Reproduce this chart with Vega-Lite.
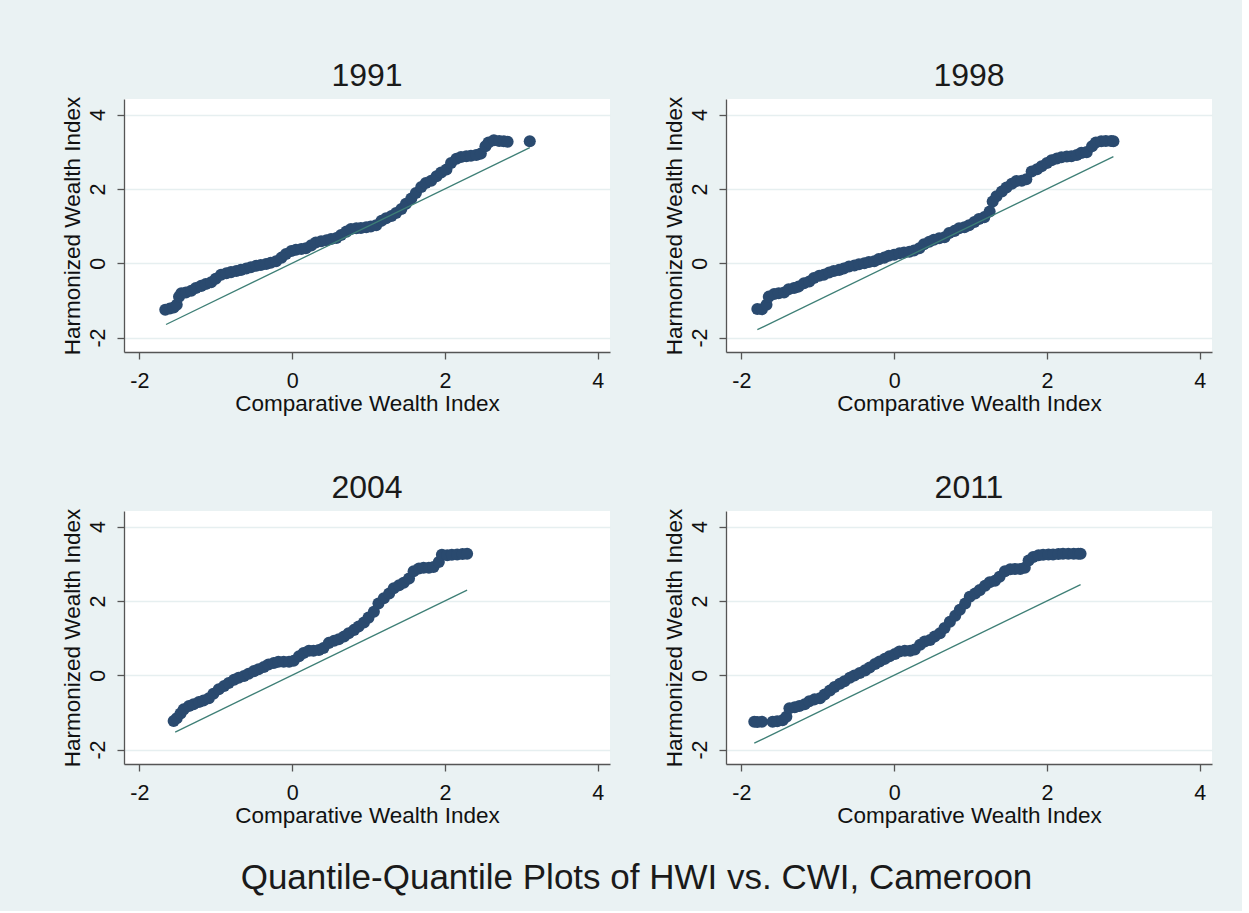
{
  "$schema": "https://vega.github.io/schema/vega-lite/v6.json",
  "background": "#EAF2F3",
  "padding": {"left": 60, "top": 60, "right": 30, "bottom": 15},
  "title": {
    "text": "Quantile-Quantile Plots of HWI vs. CWI, Cameroon",
    "orient": "bottom",
    "anchor": "middle",
    "font": "Liberation Sans",
    "fontSize": 35,
    "fontWeight": "normal",
    "color": "#1a1a1a",
    "baseline": "top",
    "offset": 34
  },
  "data": {
    "values": [
      {"year": "1991", "series": "quantile", "cwi": -1.66, "hwi": -1.25},
      {"year": "1991", "series": "quantile", "cwi": -1.60, "hwi": -1.22},
      {"year": "1991", "series": "quantile", "cwi": -1.55, "hwi": -1.19},
      {"year": "1991", "series": "quantile", "cwi": -1.51, "hwi": -1.12},
      {"year": "1991", "series": "quantile", "cwi": -1.48, "hwi": -0.90},
      {"year": "1991", "series": "quantile", "cwi": -1.45, "hwi": -0.81},
      {"year": "1991", "series": "quantile", "cwi": -1.39, "hwi": -0.79},
      {"year": "1991", "series": "quantile", "cwi": -1.32, "hwi": -0.74},
      {"year": "1991", "series": "quantile", "cwi": -1.26, "hwi": -0.67},
      {"year": "1991", "series": "quantile", "cwi": -1.19, "hwi": -0.61},
      {"year": "1991", "series": "quantile", "cwi": -1.13, "hwi": -0.56},
      {"year": "1991", "series": "quantile", "cwi": -1.06, "hwi": -0.51},
      {"year": "1991", "series": "quantile", "cwi": -1.00, "hwi": -0.42},
      {"year": "1991", "series": "quantile", "cwi": -0.93, "hwi": -0.31},
      {"year": "1991", "series": "quantile", "cwi": -0.86, "hwi": -0.27},
      {"year": "1991", "series": "quantile", "cwi": -0.80, "hwi": -0.24},
      {"year": "1991", "series": "quantile", "cwi": -0.73, "hwi": -0.21},
      {"year": "1991", "series": "quantile", "cwi": -0.67, "hwi": -0.18},
      {"year": "1991", "series": "quantile", "cwi": -0.60, "hwi": -0.14},
      {"year": "1991", "series": "quantile", "cwi": -0.54, "hwi": -0.11},
      {"year": "1991", "series": "quantile", "cwi": -0.47, "hwi": -0.07},
      {"year": "1991", "series": "quantile", "cwi": -0.41, "hwi": -0.05},
      {"year": "1991", "series": "quantile", "cwi": -0.34, "hwi": -0.02},
      {"year": "1991", "series": "quantile", "cwi": -0.28, "hwi": 0.01},
      {"year": "1991", "series": "quantile", "cwi": -0.21, "hwi": 0.05},
      {"year": "1991", "series": "quantile", "cwi": -0.14, "hwi": 0.15},
      {"year": "1991", "series": "quantile", "cwi": -0.08, "hwi": 0.25},
      {"year": "1991", "series": "quantile", "cwi": -0.01, "hwi": 0.33},
      {"year": "1991", "series": "quantile", "cwi": 0.05, "hwi": 0.36},
      {"year": "1991", "series": "quantile", "cwi": 0.12, "hwi": 0.38},
      {"year": "1991", "series": "quantile", "cwi": 0.18, "hwi": 0.40},
      {"year": "1991", "series": "quantile", "cwi": 0.25, "hwi": 0.48},
      {"year": "1991", "series": "quantile", "cwi": 0.31, "hwi": 0.56},
      {"year": "1991", "series": "quantile", "cwi": 0.38, "hwi": 0.59},
      {"year": "1991", "series": "quantile", "cwi": 0.45, "hwi": 0.62},
      {"year": "1991", "series": "quantile", "cwi": 0.51, "hwi": 0.65},
      {"year": "1991", "series": "quantile", "cwi": 0.58, "hwi": 0.68},
      {"year": "1991", "series": "quantile", "cwi": 0.64, "hwi": 0.76},
      {"year": "1991", "series": "quantile", "cwi": 0.71, "hwi": 0.85},
      {"year": "1991", "series": "quantile", "cwi": 0.77, "hwi": 0.92},
      {"year": "1991", "series": "quantile", "cwi": 0.84, "hwi": 0.94},
      {"year": "1991", "series": "quantile", "cwi": 0.90, "hwi": 0.95},
      {"year": "1991", "series": "quantile", "cwi": 0.97, "hwi": 0.97},
      {"year": "1991", "series": "quantile", "cwi": 1.03, "hwi": 0.99},
      {"year": "1991", "series": "quantile", "cwi": 1.10, "hwi": 1.02},
      {"year": "1991", "series": "quantile", "cwi": 1.17, "hwi": 1.14},
      {"year": "1991", "series": "quantile", "cwi": 1.23, "hwi": 1.21},
      {"year": "1991", "series": "quantile", "cwi": 1.30, "hwi": 1.27},
      {"year": "1991", "series": "quantile", "cwi": 1.36, "hwi": 1.35},
      {"year": "1991", "series": "quantile", "cwi": 1.43, "hwi": 1.46},
      {"year": "1991", "series": "quantile", "cwi": 1.49, "hwi": 1.60},
      {"year": "1991", "series": "quantile", "cwi": 1.56, "hwi": 1.74},
      {"year": "1991", "series": "quantile", "cwi": 1.62, "hwi": 1.89},
      {"year": "1991", "series": "quantile", "cwi": 1.69, "hwi": 2.05},
      {"year": "1991", "series": "quantile", "cwi": 1.75, "hwi": 2.16},
      {"year": "1991", "series": "quantile", "cwi": 1.82, "hwi": 2.22},
      {"year": "1991", "series": "quantile", "cwi": 1.89, "hwi": 2.34},
      {"year": "1991", "series": "quantile", "cwi": 1.95, "hwi": 2.44},
      {"year": "1991", "series": "quantile", "cwi": 2.02, "hwi": 2.52},
      {"year": "1991", "series": "quantile", "cwi": 2.08, "hwi": 2.70},
      {"year": "1991", "series": "quantile", "cwi": 2.15, "hwi": 2.81},
      {"year": "1991", "series": "quantile", "cwi": 2.21, "hwi": 2.86},
      {"year": "1991", "series": "quantile", "cwi": 2.28, "hwi": 2.88},
      {"year": "1991", "series": "quantile", "cwi": 2.34, "hwi": 2.89},
      {"year": "1991", "series": "quantile", "cwi": 2.41, "hwi": 2.91},
      {"year": "1991", "series": "quantile", "cwi": 2.47, "hwi": 2.95},
      {"year": "1991", "series": "quantile", "cwi": 2.53, "hwi": 3.15},
      {"year": "1991", "series": "quantile", "cwi": 2.57, "hwi": 3.25},
      {"year": "1991", "series": "quantile", "cwi": 2.64, "hwi": 3.31},
      {"year": "1991", "series": "quantile", "cwi": 2.71, "hwi": 3.29},
      {"year": "1991", "series": "quantile", "cwi": 2.77, "hwi": 3.28},
      {"year": "1991", "series": "quantile", "cwi": 2.82, "hwi": 3.27},
      {"year": "1991", "series": "quantile", "cwi": 3.11, "hwi": 3.28},
      {"year": "1991", "series": "reference", "cwi": -1.65, "hwi": -1.65},
      {"year": "1991", "series": "reference", "cwi": 3.11, "hwi": 3.11},

      {"year": "1998", "series": "quantile", "cwi": -1.79, "hwi": -1.23},
      {"year": "1998", "series": "quantile", "cwi": -1.73, "hwi": -1.24},
      {"year": "1998", "series": "quantile", "cwi": -1.67, "hwi": -1.12},
      {"year": "1998", "series": "quantile", "cwi": -1.64, "hwi": -0.90},
      {"year": "1998", "series": "quantile", "cwi": -1.57, "hwi": -0.83},
      {"year": "1998", "series": "quantile", "cwi": -1.51, "hwi": -0.81},
      {"year": "1998", "series": "quantile", "cwi": -1.44, "hwi": -0.79},
      {"year": "1998", "series": "quantile", "cwi": -1.38, "hwi": -0.70},
      {"year": "1998", "series": "quantile", "cwi": -1.31, "hwi": -0.67},
      {"year": "1998", "series": "quantile", "cwi": -1.25, "hwi": -0.63},
      {"year": "1998", "series": "quantile", "cwi": -1.18, "hwi": -0.54},
      {"year": "1998", "series": "quantile", "cwi": -1.11, "hwi": -0.49},
      {"year": "1998", "series": "quantile", "cwi": -1.05, "hwi": -0.40},
      {"year": "1998", "series": "quantile", "cwi": -0.98, "hwi": -0.34},
      {"year": "1998", "series": "quantile", "cwi": -0.92, "hwi": -0.31},
      {"year": "1998", "series": "quantile", "cwi": -0.85, "hwi": -0.25},
      {"year": "1998", "series": "quantile", "cwi": -0.79, "hwi": -0.21},
      {"year": "1998", "series": "quantile", "cwi": -0.72, "hwi": -0.18},
      {"year": "1998", "series": "quantile", "cwi": -0.66, "hwi": -0.14},
      {"year": "1998", "series": "quantile", "cwi": -0.59, "hwi": -0.09},
      {"year": "1998", "series": "quantile", "cwi": -0.52, "hwi": -0.06},
      {"year": "1998", "series": "quantile", "cwi": -0.46, "hwi": -0.03},
      {"year": "1998", "series": "quantile", "cwi": -0.39, "hwi": 0.00},
      {"year": "1998", "series": "quantile", "cwi": -0.33, "hwi": 0.03},
      {"year": "1998", "series": "quantile", "cwi": -0.26, "hwi": 0.05},
      {"year": "1998", "series": "quantile", "cwi": -0.20, "hwi": 0.11},
      {"year": "1998", "series": "quantile", "cwi": -0.13, "hwi": 0.15},
      {"year": "1998", "series": "quantile", "cwi": -0.07, "hwi": 0.20},
      {"year": "1998", "series": "quantile", "cwi": 0.00, "hwi": 0.23},
      {"year": "1998", "series": "quantile", "cwi": 0.07, "hwi": 0.27},
      {"year": "1998", "series": "quantile", "cwi": 0.13, "hwi": 0.29},
      {"year": "1998", "series": "quantile", "cwi": 0.20, "hwi": 0.31},
      {"year": "1998", "series": "quantile", "cwi": 0.26, "hwi": 0.34},
      {"year": "1998", "series": "quantile", "cwi": 0.33, "hwi": 0.40},
      {"year": "1998", "series": "quantile", "cwi": 0.39, "hwi": 0.51},
      {"year": "1998", "series": "quantile", "cwi": 0.46, "hwi": 0.58},
      {"year": "1998", "series": "quantile", "cwi": 0.52, "hwi": 0.63},
      {"year": "1998", "series": "quantile", "cwi": 0.59, "hwi": 0.67},
      {"year": "1998", "series": "quantile", "cwi": 0.66, "hwi": 0.70},
      {"year": "1998", "series": "quantile", "cwi": 0.72, "hwi": 0.81},
      {"year": "1998", "series": "quantile", "cwi": 0.79, "hwi": 0.87},
      {"year": "1998", "series": "quantile", "cwi": 0.85, "hwi": 0.94},
      {"year": "1998", "series": "quantile", "cwi": 0.92, "hwi": 0.97},
      {"year": "1998", "series": "quantile", "cwi": 0.98, "hwi": 1.02},
      {"year": "1998", "series": "quantile", "cwi": 1.05, "hwi": 1.11},
      {"year": "1998", "series": "quantile", "cwi": 1.11, "hwi": 1.19},
      {"year": "1998", "series": "quantile", "cwi": 1.18, "hwi": 1.24},
      {"year": "1998", "series": "quantile", "cwi": 1.25, "hwi": 1.39},
      {"year": "1998", "series": "quantile", "cwi": 1.29, "hwi": 1.66},
      {"year": "1998", "series": "quantile", "cwi": 1.34, "hwi": 1.80},
      {"year": "1998", "series": "quantile", "cwi": 1.41, "hwi": 1.93},
      {"year": "1998", "series": "quantile", "cwi": 1.47, "hwi": 2.04},
      {"year": "1998", "series": "quantile", "cwi": 1.54, "hwi": 2.14},
      {"year": "1998", "series": "quantile", "cwi": 1.60, "hwi": 2.21},
      {"year": "1998", "series": "quantile", "cwi": 1.67, "hwi": 2.22},
      {"year": "1998", "series": "quantile", "cwi": 1.73, "hwi": 2.26},
      {"year": "1998", "series": "quantile", "cwi": 1.80, "hwi": 2.47},
      {"year": "1998", "series": "quantile", "cwi": 1.87, "hwi": 2.53},
      {"year": "1998", "series": "quantile", "cwi": 1.93, "hwi": 2.61},
      {"year": "1998", "series": "quantile", "cwi": 2.00, "hwi": 2.70},
      {"year": "1998", "series": "quantile", "cwi": 2.06, "hwi": 2.77},
      {"year": "1998", "series": "quantile", "cwi": 2.13, "hwi": 2.82},
      {"year": "1998", "series": "quantile", "cwi": 2.19, "hwi": 2.85},
      {"year": "1998", "series": "quantile", "cwi": 2.26, "hwi": 2.87},
      {"year": "1998", "series": "quantile", "cwi": 2.32, "hwi": 2.88},
      {"year": "1998", "series": "quantile", "cwi": 2.39, "hwi": 2.91},
      {"year": "1998", "series": "quantile", "cwi": 2.45, "hwi": 2.97},
      {"year": "1998", "series": "quantile", "cwi": 2.52, "hwi": 2.99},
      {"year": "1998", "series": "quantile", "cwi": 2.59, "hwi": 3.15},
      {"year": "1998", "series": "quantile", "cwi": 2.64, "hwi": 3.25},
      {"year": "1998", "series": "quantile", "cwi": 2.71, "hwi": 3.28},
      {"year": "1998", "series": "quantile", "cwi": 2.77, "hwi": 3.29},
      {"year": "1998", "series": "quantile", "cwi": 2.84, "hwi": 3.29},
      {"year": "1998", "series": "quantile", "cwi": 2.87, "hwi": 3.28},
      {"year": "1998", "series": "reference", "cwi": -1.79, "hwi": -1.79},
      {"year": "1998", "series": "reference", "cwi": 2.87, "hwi": 2.87},

      {"year": "2004", "series": "quantile", "cwi": -1.55, "hwi": -1.23},
      {"year": "2004", "series": "quantile", "cwi": -1.51, "hwi": -1.16},
      {"year": "2004", "series": "quantile", "cwi": -1.46, "hwi": -1.03},
      {"year": "2004", "series": "quantile", "cwi": -1.42, "hwi": -0.92},
      {"year": "2004", "series": "quantile", "cwi": -1.35, "hwi": -0.83},
      {"year": "2004", "series": "quantile", "cwi": -1.29, "hwi": -0.78},
      {"year": "2004", "series": "quantile", "cwi": -1.22, "hwi": -0.72},
      {"year": "2004", "series": "quantile", "cwi": -1.16, "hwi": -0.68},
      {"year": "2004", "series": "quantile", "cwi": -1.09, "hwi": -0.62},
      {"year": "2004", "series": "quantile", "cwi": -1.03, "hwi": -0.50},
      {"year": "2004", "series": "quantile", "cwi": -0.96, "hwi": -0.38},
      {"year": "2004", "series": "quantile", "cwi": -0.89, "hwi": -0.29},
      {"year": "2004", "series": "quantile", "cwi": -0.83, "hwi": -0.21},
      {"year": "2004", "series": "quantile", "cwi": -0.76, "hwi": -0.12},
      {"year": "2004", "series": "quantile", "cwi": -0.70, "hwi": -0.07},
      {"year": "2004", "series": "quantile", "cwi": -0.63, "hwi": -0.02},
      {"year": "2004", "series": "quantile", "cwi": -0.57, "hwi": 0.04},
      {"year": "2004", "series": "quantile", "cwi": -0.50, "hwi": 0.11},
      {"year": "2004", "series": "quantile", "cwi": -0.44, "hwi": 0.16},
      {"year": "2004", "series": "quantile", "cwi": -0.37, "hwi": 0.22},
      {"year": "2004", "series": "quantile", "cwi": -0.31, "hwi": 0.29},
      {"year": "2004", "series": "quantile", "cwi": -0.24, "hwi": 0.33},
      {"year": "2004", "series": "quantile", "cwi": -0.18, "hwi": 0.36},
      {"year": "2004", "series": "quantile", "cwi": -0.11, "hwi": 0.36},
      {"year": "2004", "series": "quantile", "cwi": -0.04, "hwi": 0.36},
      {"year": "2004", "series": "quantile", "cwi": 0.02, "hwi": 0.39},
      {"year": "2004", "series": "quantile", "cwi": 0.09, "hwi": 0.51},
      {"year": "2004", "series": "quantile", "cwi": 0.15, "hwi": 0.60},
      {"year": "2004", "series": "quantile", "cwi": 0.22, "hwi": 0.66},
      {"year": "2004", "series": "quantile", "cwi": 0.28, "hwi": 0.66},
      {"year": "2004", "series": "quantile", "cwi": 0.35, "hwi": 0.68},
      {"year": "2004", "series": "quantile", "cwi": 0.41, "hwi": 0.73},
      {"year": "2004", "series": "quantile", "cwi": 0.48, "hwi": 0.87},
      {"year": "2004", "series": "quantile", "cwi": 0.55, "hwi": 0.93},
      {"year": "2004", "series": "quantile", "cwi": 0.61, "hwi": 0.97},
      {"year": "2004", "series": "quantile", "cwi": 0.68, "hwi": 1.04},
      {"year": "2004", "series": "quantile", "cwi": 0.74, "hwi": 1.13},
      {"year": "2004", "series": "quantile", "cwi": 0.81, "hwi": 1.22},
      {"year": "2004", "series": "quantile", "cwi": 0.87, "hwi": 1.31},
      {"year": "2004", "series": "quantile", "cwi": 0.94, "hwi": 1.42},
      {"year": "2004", "series": "quantile", "cwi": 1.00, "hwi": 1.55},
      {"year": "2004", "series": "quantile", "cwi": 1.07, "hwi": 1.71},
      {"year": "2004", "series": "quantile", "cwi": 1.13, "hwi": 1.93},
      {"year": "2004", "series": "quantile", "cwi": 1.20, "hwi": 2.07},
      {"year": "2004", "series": "quantile", "cwi": 1.27, "hwi": 2.20},
      {"year": "2004", "series": "quantile", "cwi": 1.33, "hwi": 2.34},
      {"year": "2004", "series": "quantile", "cwi": 1.40, "hwi": 2.42},
      {"year": "2004", "series": "quantile", "cwi": 1.46, "hwi": 2.49},
      {"year": "2004", "series": "quantile", "cwi": 1.53, "hwi": 2.60},
      {"year": "2004", "series": "quantile", "cwi": 1.59, "hwi": 2.80},
      {"year": "2004", "series": "quantile", "cwi": 1.66, "hwi": 2.87},
      {"year": "2004", "series": "quantile", "cwi": 1.72, "hwi": 2.89},
      {"year": "2004", "series": "quantile", "cwi": 1.79, "hwi": 2.89},
      {"year": "2004", "series": "quantile", "cwi": 1.85, "hwi": 2.91},
      {"year": "2004", "series": "quantile", "cwi": 1.92, "hwi": 3.05},
      {"year": "2004", "series": "quantile", "cwi": 1.96, "hwi": 3.24},
      {"year": "2004", "series": "quantile", "cwi": 2.03, "hwi": 3.23},
      {"year": "2004", "series": "quantile", "cwi": 2.09, "hwi": 3.24},
      {"year": "2004", "series": "quantile", "cwi": 2.16, "hwi": 3.25},
      {"year": "2004", "series": "quantile", "cwi": 2.23, "hwi": 3.26},
      {"year": "2004", "series": "quantile", "cwi": 2.29, "hwi": 3.27},
      {"year": "2004", "series": "reference", "cwi": -1.53, "hwi": -1.53},
      {"year": "2004", "series": "reference", "cwi": 2.29, "hwi": 2.29},

      {"year": "2011", "series": "quantile", "cwi": -1.83, "hwi": -1.25},
      {"year": "2011", "series": "quantile", "cwi": -1.79, "hwi": -1.26},
      {"year": "2011", "series": "quantile", "cwi": -1.73, "hwi": -1.25},
      {"year": "2011", "series": "quantile", "cwi": -1.59, "hwi": -1.25},
      {"year": "2011", "series": "quantile", "cwi": -1.53, "hwi": -1.24},
      {"year": "2011", "series": "quantile", "cwi": -1.46, "hwi": -1.21},
      {"year": "2011", "series": "quantile", "cwi": -1.41, "hwi": -1.12},
      {"year": "2011", "series": "quantile", "cwi": -1.37, "hwi": -0.89},
      {"year": "2011", "series": "quantile", "cwi": -1.30, "hwi": -0.86},
      {"year": "2011", "series": "quantile", "cwi": -1.24, "hwi": -0.83},
      {"year": "2011", "series": "quantile", "cwi": -1.17, "hwi": -0.78},
      {"year": "2011", "series": "quantile", "cwi": -1.11, "hwi": -0.70},
      {"year": "2011", "series": "quantile", "cwi": -1.04, "hwi": -0.65},
      {"year": "2011", "series": "quantile", "cwi": -0.97, "hwi": -0.62},
      {"year": "2011", "series": "quantile", "cwi": -0.91, "hwi": -0.52},
      {"year": "2011", "series": "quantile", "cwi": -0.84, "hwi": -0.41},
      {"year": "2011", "series": "quantile", "cwi": -0.78, "hwi": -0.32},
      {"year": "2011", "series": "quantile", "cwi": -0.71, "hwi": -0.23},
      {"year": "2011", "series": "quantile", "cwi": -0.65, "hwi": -0.16},
      {"year": "2011", "series": "quantile", "cwi": -0.58, "hwi": -0.07},
      {"year": "2011", "series": "quantile", "cwi": -0.52, "hwi": -0.01},
      {"year": "2011", "series": "quantile", "cwi": -0.45, "hwi": 0.06},
      {"year": "2011", "series": "quantile", "cwi": -0.38, "hwi": 0.13},
      {"year": "2011", "series": "quantile", "cwi": -0.32, "hwi": 0.21},
      {"year": "2011", "series": "quantile", "cwi": -0.25, "hwi": 0.30},
      {"year": "2011", "series": "quantile", "cwi": -0.19, "hwi": 0.37},
      {"year": "2011", "series": "quantile", "cwi": -0.12, "hwi": 0.44},
      {"year": "2011", "series": "quantile", "cwi": -0.06, "hwi": 0.51},
      {"year": "2011", "series": "quantile", "cwi": 0.01, "hwi": 0.57},
      {"year": "2011", "series": "quantile", "cwi": 0.07, "hwi": 0.64},
      {"year": "2011", "series": "quantile", "cwi": 0.14, "hwi": 0.66},
      {"year": "2011", "series": "quantile", "cwi": 0.21, "hwi": 0.66},
      {"year": "2011", "series": "quantile", "cwi": 0.27, "hwi": 0.69},
      {"year": "2011", "series": "quantile", "cwi": 0.34, "hwi": 0.82},
      {"year": "2011", "series": "quantile", "cwi": 0.40, "hwi": 0.91},
      {"year": "2011", "series": "quantile", "cwi": 0.47, "hwi": 0.95},
      {"year": "2011", "series": "quantile", "cwi": 0.53, "hwi": 1.04},
      {"year": "2011", "series": "quantile", "cwi": 0.60, "hwi": 1.13},
      {"year": "2011", "series": "quantile", "cwi": 0.66, "hwi": 1.27},
      {"year": "2011", "series": "quantile", "cwi": 0.73, "hwi": 1.44},
      {"year": "2011", "series": "quantile", "cwi": 0.80, "hwi": 1.60},
      {"year": "2011", "series": "quantile", "cwi": 0.86, "hwi": 1.76},
      {"year": "2011", "series": "quantile", "cwi": 0.93, "hwi": 1.93},
      {"year": "2011", "series": "quantile", "cwi": 0.99, "hwi": 2.11},
      {"year": "2011", "series": "quantile", "cwi": 1.06, "hwi": 2.20},
      {"year": "2011", "series": "quantile", "cwi": 1.12, "hwi": 2.29},
      {"year": "2011", "series": "quantile", "cwi": 1.19, "hwi": 2.41},
      {"year": "2011", "series": "quantile", "cwi": 1.25, "hwi": 2.50},
      {"year": "2011", "series": "quantile", "cwi": 1.32, "hwi": 2.54},
      {"year": "2011", "series": "quantile", "cwi": 1.38, "hwi": 2.65},
      {"year": "2011", "series": "quantile", "cwi": 1.45, "hwi": 2.80},
      {"year": "2011", "series": "quantile", "cwi": 1.52, "hwi": 2.85},
      {"year": "2011", "series": "quantile", "cwi": 1.58, "hwi": 2.86},
      {"year": "2011", "series": "quantile", "cwi": 1.65, "hwi": 2.86},
      {"year": "2011", "series": "quantile", "cwi": 1.71, "hwi": 2.89},
      {"year": "2011", "series": "quantile", "cwi": 1.76, "hwi": 3.09},
      {"year": "2011", "series": "quantile", "cwi": 1.82, "hwi": 3.18},
      {"year": "2011", "series": "quantile", "cwi": 1.89, "hwi": 3.23},
      {"year": "2011", "series": "quantile", "cwi": 1.95, "hwi": 3.24},
      {"year": "2011", "series": "quantile", "cwi": 2.02, "hwi": 3.25},
      {"year": "2011", "series": "quantile", "cwi": 2.08, "hwi": 3.25},
      {"year": "2011", "series": "quantile", "cwi": 2.15, "hwi": 3.26},
      {"year": "2011", "series": "quantile", "cwi": 2.21, "hwi": 3.27},
      {"year": "2011", "series": "quantile", "cwi": 2.28, "hwi": 3.27},
      {"year": "2011", "series": "quantile", "cwi": 2.35, "hwi": 3.27},
      {"year": "2011", "series": "quantile", "cwi": 2.41, "hwi": 3.27},
      {"year": "2011", "series": "quantile", "cwi": 2.44, "hwi": 3.27},
      {"year": "2011", "series": "reference", "cwi": -1.83, "hwi": -1.83},
      {"year": "2011", "series": "reference", "cwi": 2.44, "hwi": 2.44}
    ]
  },
  "facet": {
    "field": "year",
    "type": "ordinal",
    "header": {
      "title": null,
      "labelFont": "Liberation Sans",
      "labelFontSize": 32,
      "labelColor": "#1a1a1a",
      "labelOrient": "top",
      "labelBaseline": "bottom",
      "labelPadding": -29
    }
  },
  "columns": 2,
  "spacing": {"row": 57, "column": 52},
  "resolve": {"axis": {"x": "independent", "y": "independent"}},
  "spec": {
    "width": 486,
    "height": 253,
    "encoding": {
      "x": {
        "field": "cwi",
        "type": "quantitative",
        "title": "Comparative Wealth Index",
        "scale": {"domain": [-2.2, 4.16], "nice": false, "zero": false},
        "axis": {"values": [-2, 0, 2, 4], "grid": false, "labelExpr": "'' + datum.value", "labelPadding": 11, "titlePadding": 1}
      },
      "y": {
        "field": "hwi",
        "type": "quantitative",
        "title": "Harmonized Wealth Index",
        "scale": {"domain": [-2.39, 4.42], "nice": false, "zero": false},
        "axis": {"values": [-2, 0, 2, 4], "grid": true, "labelExpr": "'' + datum.value", "labelAngle": -90, "labelAlign": "center", "labelBaseline": "bottom", "labelPadding": 8, "titlePadding": 3}
      }
    },
    "layer": [
      {
        "transform": [{"filter": "datum.series === 'quantile'"}],
        "mark": {"type": "circle", "size": 145, "color": "#2A4A6F", "opacity": 1}
      },
      {
        "transform": [{"filter": "datum.series === 'reference'"}],
        "mark": {"type": "line", "color": "#3E7F76", "strokeWidth": 1.3}
      }
    ]
  },
  "config": {
    "view": {"fill": "white", "stroke": null},
    "axis": {
      "labelFont": "Liberation Sans",
      "titleFont": "Liberation Sans",
      "labelFontSize": 21.5,
      "titleFontSize": 22.5,
      "titleFontWeight": "normal",
      "labelColor": "#111111",
      "titleColor": "#111111",
      "domainColor": "#555555",
      "domainWidth": 1.3,
      "tickColor": "#555555",
      "tickWidth": 1.3,
      "tickSize": 7,
      "gridColor": "#E6EFF0",
      "gridWidth": 1.5
    }
  }
}
